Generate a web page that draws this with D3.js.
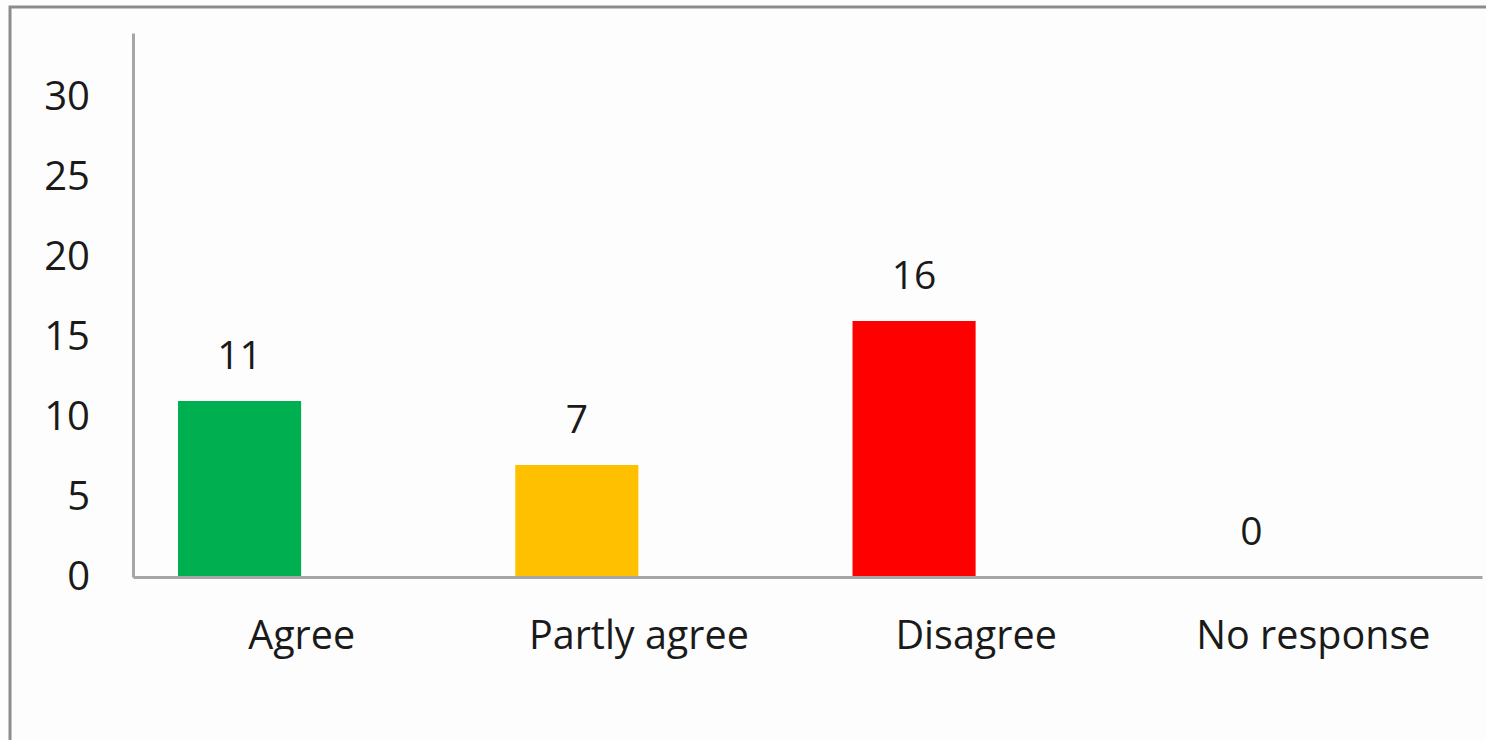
<!DOCTYPE html>
<html><head>
<meta charset="utf-8">
<title>Responses</title>
<script src="https://d3js.org/d3.v7.min.js"></script>
<style>
  body { margin:0; background:#fdfdfd; }
  svg { display:block; }
  text { font-family:"Open Sans", sans-serif; fill:#1a1a1a; }
</style>
</head>
<body>
<svg width="1486" height="740"></svg>
<script>
// chart data
var categories = ["Agree", "Partly agree", "Disagree", "No response"];
var counts = [11, 7, 16, 0];
var barColors = ["#00b050", "#ffc000", "#ff0000", "#ffffff"];
var yTicks = [0, 5, 10, 15, 20, 25, 30];

const svg = d3.select("svg"),
      plotLeft = 133, plotRight = 1482,
      plotTop = 33, plotBottom = 577;

// outer frame (only top and left edges are inside the picture)
svg.append("rect")
  .attr("x", 10).attr("y", 7)
  .attr("width", 1600).attr("height", 900)
  .attr("fill", "none")
  .attr("stroke", "#8c8c8c")
  .attr("stroke-width", 3);

var x = d3.scaleBand().domain(categories).range([plotLeft, plotRight]);
var y = d3.scaleLinear().domain([0, 34]).range([plotBottom, plotTop]);

// bars sit left of their category label, as in the original
var barW = x.bandwidth() * 0.365;
var barShift = -x.bandwidth() * 0.184;

var g = svg.append("g");

g.selectAll("rect.bar")
  .data(counts)
  .enter()
  .append("rect")
  .attr("class", "bar")
  .attr("x", function(d, i) { return x(categories[i]) + x.bandwidth()/2 + barShift - barW/2; })
  .attr("y", function(d) { return y(d); })
  .attr("width", barW)
  .attr("height", function(d) { return y(0) - y(d); })
  .style("fill", function(d, i) { return barColors[i]; });

g.selectAll("text.val")
  .data(counts)
  .enter()
  .append("text")
  .attr("class", "val")
  .attr("x", function(d, i) { return x(categories[i]) + x.bandwidth()/2 + barShift; })
  .attr("y", function(d) { return y(d) - 32; })
  .attr("text-anchor", "middle")
  .style("font-size", "39px")
  .text(function(d) { return d; });

// y axis
var yAxis = d3.axisLeft(y).tickValues(yTicks).tickSize(0).tickPadding(43);
var ya = svg.append("g").attr("transform", "translate(" + plotLeft + ",0)").call(yAxis);
ya.select(".domain").attr("stroke", "#a6a6a6").attr("stroke-width", 3);
ya.selectAll("text").style("font-size", "40px").style("font-family", "'Open Sans', sans-serif").attr("fill", "#1a1a1a");

// x axis
var xAxis = d3.axisBottom(x).tickSize(0).tickPadding(44);
var xa = svg.append("g").attr("transform", "translate(0," + plotBottom + ")").call(xAxis);
xa.select(".domain").attr("stroke", "#a6a6a6").attr("stroke-width", 3);
xa.selectAll("text").style("font-size", "39.5px").style("font-family", "'Open Sans', sans-serif").attr("fill", "#1a1a1a");
</script>
</body>
</html>
